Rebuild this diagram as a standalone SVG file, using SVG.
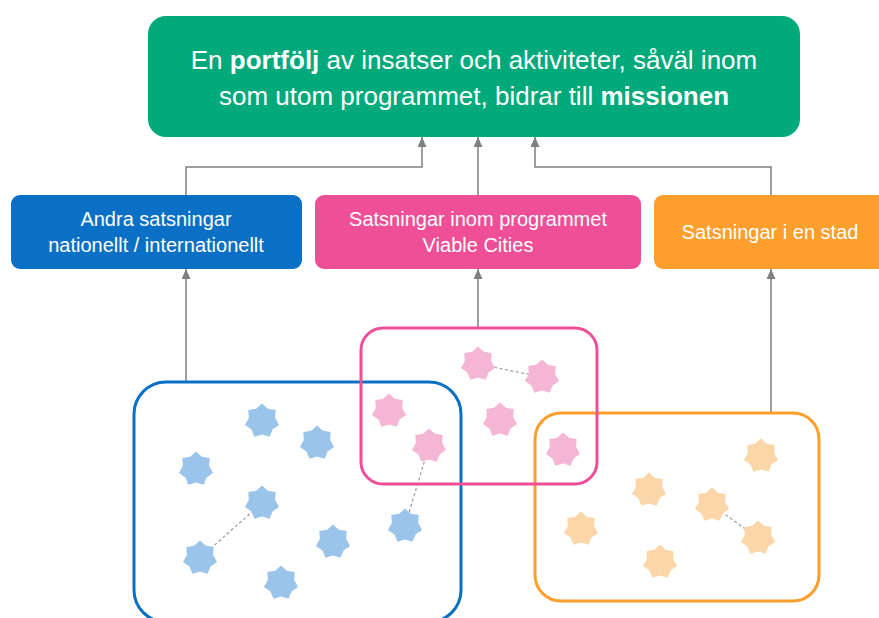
<svg xmlns="http://www.w3.org/2000/svg" width="879" height="618" viewBox="0 0 879 618">
<style>
text{font-family:"Liberation Sans",Arial,sans-serif;fill:#fff;text-anchor:middle}
.t1{font-size:26px}
.t2{font-size:20px}
.b{font-weight:bold}
.conn{fill:none;stroke:#7f7f7f;stroke-width:1.5}
.dash{fill:none;stroke:#9a9a9a;stroke-width:1.2;stroke-dasharray:3 2.5}
.sb{fill:#9ac4ea}
.sp{fill:#f4b6d4}
.so{fill:#fbd6a8}
.cont{fill:none;stroke-width:3}
</style>
<defs>
<marker id="ah" viewBox="0 0 10 9" refX="10" refY="4.5" markerWidth="10" markerHeight="9" markerUnits="userSpaceOnUse" orient="auto">
<path d="M0,0 L10,4.5 L0,9 Z" fill="#7f7f7f"/>
</marker>
<polygon id="star" points="0,-17.5 5.85,-12.15 13.68,-10.91 13.16,-3.00 17.06,3.89 10.55,8.41 7.59,15.77 0,13.5 -7.59,15.77 -10.55,8.41 -17.06,3.89 -13.16,-3.00 -13.68,-10.91 -5.85,-12.15"/>
</defs>
<rect width="879" height="618" fill="#fff"/>

<g id="connectors">
<path class="conn" d="M186,196 V167 H422 V137" marker-end="url(#ah)"/>
<path class="conn" d="M478,196 V137" marker-end="url(#ah)"/>
<path class="conn" d="M771,196 V167 H535 V137" marker-end="url(#ah)"/>
<path class="conn" d="M186,382 V269" marker-end="url(#ah)"/>
<path class="conn" d="M478,328 V269" marker-end="url(#ah)"/>
<path class="conn" d="M771,413 V269" marker-end="url(#ah)"/>
<line class="dash" x1="262" y1="503" x2="200" y2="558"/>
<line class="dash" x1="478" y1="364" x2="542" y2="377"/>
<line class="dash" x1="429" y1="446" x2="405" y2="526"/>
<line class="dash" x1="712" y1="505" x2="758" y2="538"/>
</g>

<g id="mission">
<rect x="148" y="16" width="652" height="121" rx="18" fill="#02a97a"/>
<text class="t1" x="474" y="69">En <tspan class="b">portfölj</tspan> av insatser och aktiviteter, såväl inom</text>
<text class="t1" x="474" y="105">som utom programmet, bidrar till <tspan class="b">missionen</tspan></text>
</g>

<g id="andra">
<rect x="11" y="195" width="291" height="74" rx="9" fill="#0a70c6"/>
<text class="t2" x="156" y="226">Andra satsningar</text>
<text class="t2" x="156" y="252">nationellt / internationellt</text>
</g>

<g id="programmet">
<rect x="315" y="195" width="326" height="74" rx="9" fill="#ee4f97"/>
<text class="t2" x="478" y="226">Satsningar inom programmet</text>
<text class="t2" x="478" y="252">Viable Cities</text>
</g>

<g id="stad">
<rect x="654" y="195" width="240" height="74" rx="9" fill="#fe9e2d"/>
<text class="t2" x="770" y="239">Satsningar i en stad</text>
</g>

<g id="blue-group">
<rect class="cont" x="134" y="382" width="327" height="240" rx="32" stroke="#0a70c6"/>
<use href="#star" class="sb" x="262" y="421"/>
<use href="#star" class="sb" x="317" y="443"/>
<use href="#star" class="sb" x="196" y="469"/>
<use href="#star" class="sb" x="262" y="503"/>
<use href="#star" class="sb" x="200" y="558"/>
<use href="#star" class="sb" x="333" y="542"/>
<use href="#star" class="sb" x="281" y="583"/>
<use href="#star" class="sb" x="405" y="526"/>
</g>

<g id="orange-group">
<rect class="cont" x="535" y="413" width="284" height="188" rx="26" stroke="#fe9e2d"/>
<use href="#star" class="so" x="761" y="456"/>
<use href="#star" class="so" x="649" y="490"/>
<use href="#star" class="so" x="712" y="505"/>
<use href="#star" class="so" x="581" y="529"/>
<use href="#star" class="so" x="758" y="538"/>
<use href="#star" class="so" x="660" y="562"/>
</g>

<g id="pink-group">
<rect class="cont" x="361" y="328" width="236" height="156" rx="22" stroke="#ee4f97"/>
<use href="#star" class="sp" x="478" y="364"/>
<use href="#star" class="sp" x="542" y="377"/>
<use href="#star" class="sp" x="389" y="411"/>
<use href="#star" class="sp" x="429" y="446"/>
<use href="#star" class="sp" x="500" y="420"/>
<use href="#star" class="sp" x="563" y="450"/>
</g>
</svg>
